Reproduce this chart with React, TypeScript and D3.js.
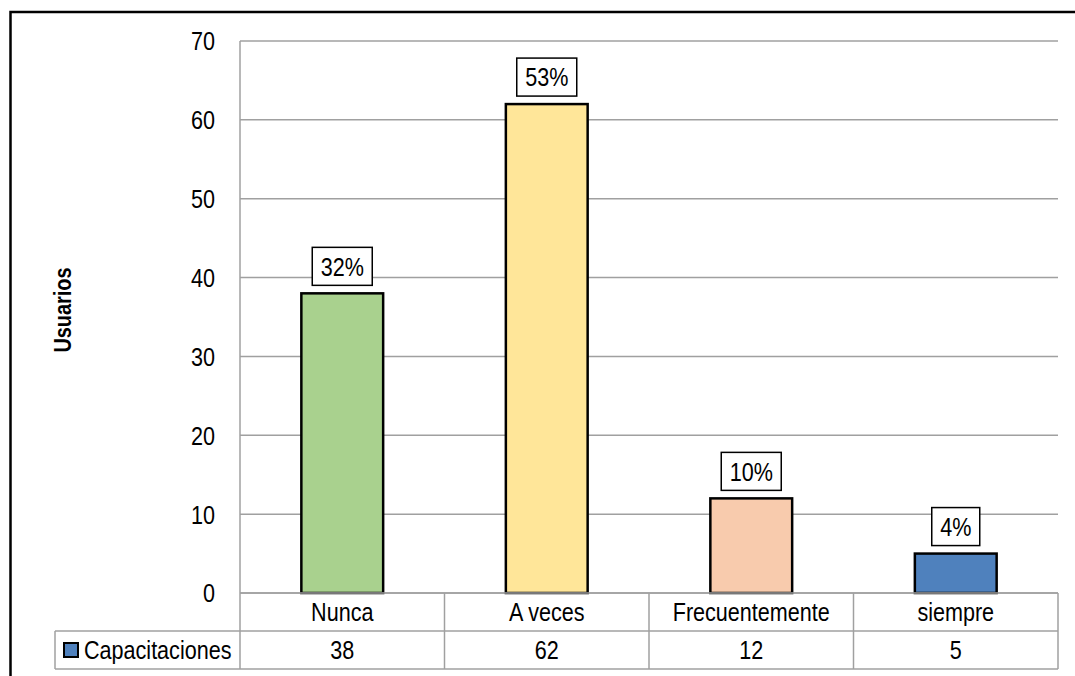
import React from "react";
import * as d3 from "d3";

const categories = ["Nunca", "A veces", "Frecuentemente", "siempre"];
const values = [38, 62, 12, 5];
const percentLabels = ["32%", "53%", "10%", "4%"];
const barColors = ["#A9D18E", "#FFE699", "#F8CBAD", "#4F81BD"];
const yTicks = [0, 10, 20, 30, 40, 50, 60, 70];
const seriesName = "Capacitaciones";
const yTitle = "Usuarios";

const W = 1075;
const H = 676;
const plotL = 240;
const plotR = 1058;
const plotT = 41;
const plotB = 593;
const rowH = 38;
const tableL = 55;
const FONT = "'Liberation Sans', Arial, sans-serif";
const GRID = "#A0A0A0";
const SX = 0.83;
const FS = 26;

function NText(props: {
  x: number;
  y: number;
  anchor?: "start" | "middle" | "end";
  size?: number;
  bold?: boolean;
  rotate?: number;
  children: React.ReactNode;
}) {
  const { x, y, anchor = "middle", size = FS, bold = false, rotate = 0, children } = props;
  return (
    <g transform={`translate(${x},${y}) rotate(${rotate}) scale(${SX},1)`}>
      <text
        x={0}
        y={0}
        dy="0.36em"
        textAnchor={anchor}
        fontSize={size}
        fontWeight={bold ? "bold" : "normal"}
        fill="#000"
      >
        {children}
      </text>
    </g>
  );
}

export default function App() {
  const x = d3.scaleBand<string>().domain(categories).range([plotL, plotR]).paddingInner(0).paddingOuter(0);
  const y = d3.scaleLinear().domain([0, 70]).range([plotB, plotT]);
  const bw = x.bandwidth() * 0.4;

  const boundaries = categories.map((c) => x(c) as number).concat([plotR]);

  return (
    <svg
      width={W}
      height={H}
      style={{ position: "absolute", left: 0, top: 0, background: "#fff" }}
      fontFamily={FONT}
    >
      <rect x={0} y={0} width={W} height={H} fill="#fff" />
      {/* outer border */}
      <rect x={10.5} y={12} width={W + 50} height={H + 50} fill="none" stroke="#000" strokeWidth={2.5} />

      {/* gridlines */}
      {yTicks.map((t) => (
        <line key={"g" + t} x1={plotL} x2={plotR} y1={y(t)} y2={y(t)} stroke={GRID} strokeWidth={1.5} />
      ))}
      {/* left axis line through table */}
      <line x1={plotL} x2={plotL} y1={plotT} y2={plotB + 2 * rowH} stroke={GRID} strokeWidth={1.5} />

      {/* tick labels */}
      {yTicks.map((t) => (
        <NText key={"t" + t} x={215} y={y(t)} anchor="end">
          {t}
        </NText>
      ))}

      {/* y title */}
      <NText x={62} y={310} rotate={-90} size={24} bold>
        {yTitle}
      </NText>

      {/* bars */}
      {categories.map((c, i) => {
        const cx = (x(c) as number) + x.bandwidth() / 2;
        const top = y(values[i]);
        return (
          <rect
            key={"b" + c}
            x={cx - bw / 2}
            y={top}
            width={bw}
            height={plotB - top}
            fill={barColors[i]}
            stroke="#000"
            strokeWidth={2.5}
          />
        );
      })}

      {/* percentage labels */}
      {categories.map((c, i) => {
        const cx = (x(c) as number) + x.bandwidth() / 2;
        const top = y(values[i]);
        const boxW = percentLabels[i].length === 2 ? 48 : 60;
        const boxH = 38;
        const by = top - 8 - boxH;
        return (
          <g key={"l" + c}>
            <rect x={cx - boxW / 2} y={by} width={boxW} height={boxH} fill="#fff" stroke="#000" strokeWidth={1.5} />
            <NText x={cx} y={by + boxH / 2}>
              {percentLabels[i]}
            </NText>
          </g>
        );
      })}

      {/* data table */}
      <line x1={plotL} x2={plotR} y1={plotB} y2={plotB} stroke={GRID} strokeWidth={1.5} />
      <line x1={tableL} x2={plotR} y1={plotB + rowH} y2={plotB + rowH} stroke={GRID} strokeWidth={1.5} />
      <line x1={tableL} x2={plotR} y1={plotB + 2 * rowH} y2={plotB + 2 * rowH} stroke={GRID} strokeWidth={1.5} />
      <line x1={tableL} x2={tableL} y1={plotB + rowH} y2={plotB + 2 * rowH} stroke={GRID} strokeWidth={1.5} />
      {boundaries.slice(1).map((bx, i) => (
        <line key={"v" + i} x1={bx} x2={bx} y1={plotB} y2={plotB + 2 * rowH} stroke={GRID} strokeWidth={1.5} />
      ))}
      {categories.map((c, i) => {
        const cx = (x(c) as number) + x.bandwidth() / 2;
        return (
          <g key={"tc" + c}>
            <NText x={cx} y={plotB + rowH / 2}>
              {c}
            </NText>
            <NText x={cx} y={plotB + rowH * 1.5}>
              {values[i]}
            </NText>
          </g>
        );
      })}
      {/* legend key */}
      <rect x={64} y={643} width={14} height={14} fill={barColors[3]} stroke="#000" strokeWidth={2} />
      <NText x={84} y={plotB + rowH * 1.5} anchor="start">
        {seriesName}
      </NText>
    </svg>
  );
}
